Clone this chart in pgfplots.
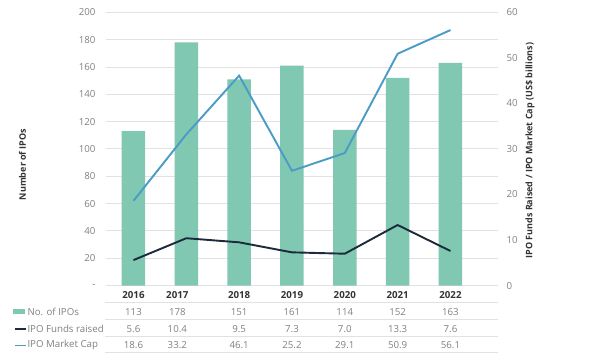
\documentclass[border=0pt]{standalone}
\usepackage{fontspec}
\setmainfont{Open Sans}
\usepackage{pgfplots}
\pgfplotsset{compat=1.18}
\definecolor{barc}{HTML}{80C8B2}
\definecolor{funds}{HTML}{1B2B3C}
\definecolor{mcap}{HTML}{4A9BC5}
\definecolor{txt}{HTML}{808080}
\definecolor{dark}{HTML}{333333}
\definecolor{grd}{HTML}{E2E2E2}
\newcommand{\tf}{\fontsize{9.7}{11}\selectfont}
\begin{document}
\begin{tikzpicture}[x=1pt,y=1pt]
\useasboundingbox (0pt,0pt) rectangle (600pt,364pt);
\begin{axis}[
  at={(106pt,78.4pt)}, anchor=south west, scale only axis,
  width=392pt, height=273.3pt,
  xmin=-0.52, xmax=6.9, ymin=0, ymax=200,
  axis line style={draw=none},
  xtick=\empty,
  ytick={0,20,...,200},
  yticklabels={-,20,40,60,80,100,120,140,160,180,200},
  ymajorgrids, grid style={grd, line width=0.9pt},
  major tick length=0pt,
  yticklabel style={font=\tf, text=txt, xshift=-7pt},
  /pgf/number format/assume math mode=true,
  clip=false,
]
\addplot[ybar, bar width=23.5pt, fill=barc, draw=none] coordinates {
  (0,113) (1,178) (2,151) (3,161) (4,114) (5,152) (6,163)};
% year labels
\node[font=\tf\bfseries, text=dark] at (axis cs:0,0) [yshift=-9.1pt] {2016};
\node[font=\tf\bfseries, text=dark] at (axis cs:0.83,0) [yshift=-9.1pt] {2017};
\node[font=\tf\bfseries, text=dark] at (axis cs:2,0) [yshift=-9.1pt] {2018};
\node[font=\tf\bfseries, text=dark] at (axis cs:3,0) [yshift=-9.1pt] {2019};
\node[font=\tf\bfseries, text=dark] at (axis cs:4,0) [yshift=-9.1pt] {2020};
\node[font=\tf\bfseries, text=dark] at (axis cs:5,0) [yshift=-9.1pt] {2021};
\node[font=\tf\bfseries, text=dark] at (axis cs:6,0) [yshift=-9.1pt] {2022};
% row 1
\node[font=\tf, text=txt] at (axis cs:0,0) [yshift=-26.1pt] {113};
\node[font=\tf, text=txt] at (axis cs:0.83,0) [yshift=-26.1pt] {178};
\node[font=\tf, text=txt] at (axis cs:2,0) [yshift=-26.1pt] {151};
\node[font=\tf, text=txt] at (axis cs:3,0) [yshift=-26.1pt] {161};
\node[font=\tf, text=txt] at (axis cs:4,0) [yshift=-26.1pt] {114};
\node[font=\tf, text=txt] at (axis cs:5,0) [yshift=-26.1pt] {152};
\node[font=\tf, text=txt] at (axis cs:6,0) [yshift=-26.1pt] {163};
% row 2
\node[font=\tf, text=txt] at (axis cs:0,0) [yshift=-43.1pt] {5.6};
\node[font=\tf, text=txt] at (axis cs:0.83,0) [yshift=-43.1pt] {10.4};
\node[font=\tf, text=txt] at (axis cs:2,0) [yshift=-43.1pt] {9.5};
\node[font=\tf, text=txt] at (axis cs:3,0) [yshift=-43.1pt] {7.3};
\node[font=\tf, text=txt] at (axis cs:4,0) [yshift=-43.1pt] {7.0};
\node[font=\tf, text=txt] at (axis cs:5,0) [yshift=-43.1pt] {13.3};
\node[font=\tf, text=txt] at (axis cs:6,0) [yshift=-43.1pt] {7.6};
% row 3
\node[font=\tf, text=txt] at (axis cs:0,0) [yshift=-59.7pt] {18.6};
\node[font=\tf, text=txt] at (axis cs:0.83,0) [yshift=-59.7pt] {33.2};
\node[font=\tf, text=txt] at (axis cs:2,0) [yshift=-59.7pt] {46.1};
\node[font=\tf, text=txt] at (axis cs:3,0) [yshift=-59.7pt] {25.2};
\node[font=\tf, text=txt] at (axis cs:4,0) [yshift=-59.7pt] {29.1};
\node[font=\tf, text=txt] at (axis cs:5,0) [yshift=-59.7pt] {50.9};
\node[font=\tf, text=txt] at (axis cs:6,0) [yshift=-59.7pt] {56.1};
\end{axis}
\begin{axis}[
  at={(106pt,78.4pt)}, anchor=south west, scale only axis,
  width=392pt, height=273.3pt,
  xmin=-0.52, xmax=6.9, ymin=0, ymax=60,
  axis y line*=right, axis x line=none,
  axis line style={draw=none},
  ytick={0,10,...,60},
  major tick length=0pt,
  yticklabel style={font=\tf, text=txt, anchor=west, xshift=5pt},
  /pgf/number format/assume math mode=true,
]
\addplot[funds, line width=1.9pt] coordinates {
  (0,5.6) (1,10.4) (2,9.5) (3,7.3) (4,7.0) (5,13.3) (6,7.6)};
\addplot[mcap, line width=1.9pt] coordinates {
  (0,18.6) (1,33.2) (2,46.1) (3,25.2) (4,29.1) (5,50.9) (6,56.1)};
\end{axis}
% table separators
\foreach \yy in {61.3,44.7,28,11.3} {\draw[grd, line width=0.9pt] (105pt,\yy pt) -- (498pt,\yy pt);}
% legend
\fill[barc] (12.7pt,50pt) rectangle (25pt,54.6pt);
\draw[funds, line width=1.6pt] (15pt,35.2pt) -- (26pt,35.2pt);
\draw[mcap, line width=1.6pt] (15pt,18.6pt) -- (26pt,18.6pt);
\node[font=\tf, text=txt, anchor=west, inner sep=0pt] at (27.3pt,52.3pt) {No. of IPOs};
\node[font=\tf, text=txt, anchor=west, inner sep=0pt] at (27.3pt,35.3pt) {IPO Funds raised};
\node[font=\tf, text=txt, anchor=west, inner sep=0pt] at (27.3pt,18.7pt) {IPO Market Cap};
% axis titles
\node[font=\fontsize{9}{11}\selectfont\bfseries, text=dark, rotate=90] at (22.5pt,199.5pt) {Number of IPOs};
\node[font=\fontsize{9}{11}\selectfont\bfseries, text=dark, rotate=90] at (530pt,213.5pt) {IPO Funds Raised / IPO Market Cap (US\$ billions)};
\end{tikzpicture}
\end{document}
